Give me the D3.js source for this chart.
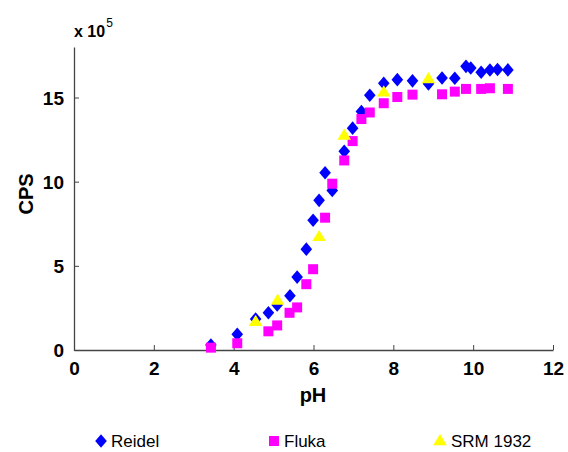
<!DOCTYPE html>
<html><head><meta charset="utf-8">
<script src="https://cdn.jsdelivr.net/npm/d3@7"></script>
<style>
body{margin:0;background:#fff;}
svg{display:block;font-family:"Liberation Sans",Arial,sans-serif;}
</style></head>
<body>
<script>
const reidelPH  = [3.43,4.09,4.55,4.87,5.09,5.41,5.59,5.82,5.99,6.14,6.29,6.47,6.77,6.98,7.20,7.41,7.76,8.10,8.48,8.88,9.22,9.54,9.82,9.94,10.20,10.42,10.61,10.87];
const reidelCPS = [0.30,0.93,1.84,2.21,2.67,3.22,4.33,5.99,7.71,8.89,10.53,9.48,11.80,13.18,14.17,15.13,15.85,16.06,15.99,15.81,16.16,16.14,16.85,16.75,16.50,16.63,16.66,16.64];
const flukaPH   = [3.43,4.09,4.87,5.09,5.40,5.59,5.82,5.99,6.29,6.47,6.77,6.98,7.20,7.41,7.76,8.10,8.48,9.22,9.54,9.82,10.20,10.42,10.87];
const flukaCPS  = [0.14,0.40,1.11,1.46,2.21,2.53,3.91,4.80,7.86,9.88,11.26,12.41,13.72,14.11,14.66,15.03,15.17,15.19,15.35,15.51,15.51,15.55,15.51];
const srmPH     = [4.55,5.10,6.14,6.77,7.76,8.88];
const srmCPS    = [1.68,2.94,6.72,12.74,15.31,16.10];
const xTicks = [0,2,4,6,8,10,12];
const yTicks = [0,5,10,15];
const seriesNames = ["Reidel","Fluka","SRM 1932"];

const W=568,H=452;
const svg=d3.select("body").append("svg").attr("width",W).attr("height",H);
const x=d3.scaleLinear().domain([0,12]).range([74,553]);
const y=d3.scaleLinear().domain([0,18]).range([350,47]);

// axes
const xa=svg.append("g").attr("transform","translate(0,350)")
  .call(d3.axisBottom(x).tickValues(xTicks).tickSizeInner(-5).tickSizeOuter(0).tickPadding(12));
const ya=svg.append("g").attr("transform","translate(74,0)")
  .call(d3.axisLeft(y).tickValues(yTicks).tickSizeInner(-5).tickSizeOuter(0).tickPadding(10));
[xa,ya].forEach(g=>{
  g.select(".domain").attr("stroke","#444").attr("stroke-width",1.3);
  g.selectAll(".tick line").attr("stroke","#444");
  g.selectAll(".tick text").attr("fill","#000").style("font-size","19px").style("font-weight","bold").style("font-family","Liberation Sans, Arial, sans-serif");
});
xa.selectAll(".tick text").attr("dy","0.71em");
ya.selectAll(".tick text").attr("dy","0.36em");

// labels
svg.append("text").attr("x",313).attr("y",402).attr("text-anchor","middle")
  .style("font-size","20px").style("font-weight","bold").text("pH");
svg.append("text").attr("transform","translate(33,194) rotate(-90)").attr("text-anchor","middle")
  .style("font-size","20px").style("font-weight","bold").text("CPS");
const ex=svg.append("text").attr("x",74).attr("y",37).style("font-size","16px").style("font-weight","bold");
ex.append("tspan").text("x 10");
ex.append("tspan").attr("dx",1).attr("dy",-10).style("font-size","12px").style("font-weight","normal").text("5");

// markers (custom symbol shapes)
const diamondType={draw(c){c.moveTo(0,-6.8);c.lineTo(5.8,0);c.lineTo(0,6.8);c.lineTo(-5.8,0);c.closePath();}};
const squareType={draw(c){c.moveTo(-5,-5);c.lineTo(5,-5);c.lineTo(5,5);c.lineTo(-5,5);c.closePath();}};
const triType={draw(c){c.moveTo(0,-7);c.lineTo(6.8,4.2);c.lineTo(-6.8,4.2);c.closePath();}};
const diamond=d3.symbol().type(diamondType);
const square=d3.symbol().type(squareType);
const tri=d3.symbol().type(triType);

const g=svg.append("g");
g.selectAll(".r").data(reidelPH.map((p,i)=>[p,reidelCPS[i]])).join("path")
  .attr("d",diamond).attr("fill","#0000ff")
  .attr("transform",d=>`translate(${x(d[0])},${y(d[1])})`);
g.selectAll(".f").data(flukaPH.map((p,i)=>[p,flukaCPS[i]])).join("path")
  .attr("d",square).attr("fill","#ff00ff")
  .attr("transform",d=>`translate(${x(d[0])},${y(d[1])})`);
g.selectAll(".s").data(srmPH.map((p,i)=>[p,srmCPS[i]])).join("path")
  .attr("d",tri).attr("fill","#ffff00")
  .attr("transform",d=>`translate(${x(d[0])},${y(d[1])})`);

// legend
const leg=svg.append("g").style("font-size","17px");
const legX=[101,274,440];
const legSyms=[diamond,square,tri];
const legCols=["#0000ff","#ff00ff","#ffff00"];
seriesNames.forEach((n,i)=>{
  leg.append("path").attr("d",legSyms[i]).attr("fill",legCols[i])
    .attr("transform",`translate(${legX[i]},441)`);
  leg.append("text").attr("x",legX[i]+(i===2?11:10)).attr("y",447).text(n);
});
</script>
</body></html>
